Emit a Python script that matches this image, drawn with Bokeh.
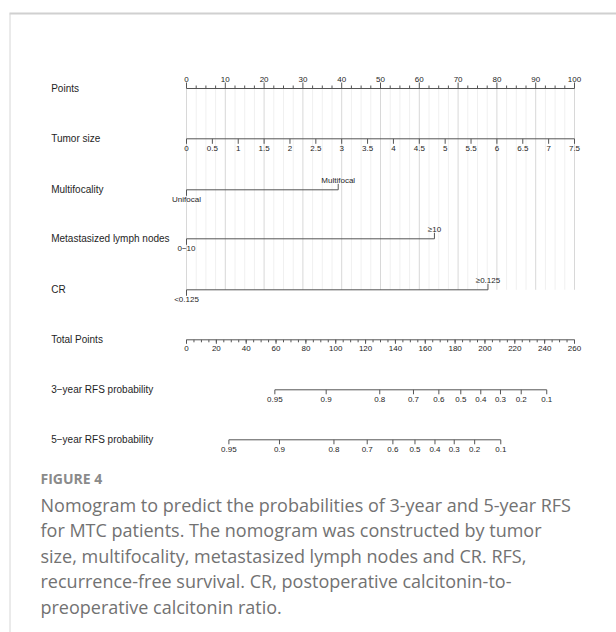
from bokeh.plotting import figure
from bokeh.models import Range1d
from bokeh.core.properties import value
from bokeh.embed import file_html
from bokeh.resources import INLINE

# ---------------- data ----------------
row_labels = ["Points", "Tumor size", "Multifocality", "Metastasized lymph nodes",
              "CR", "Total Points", "3\u2212year RFS probability", "5\u2212year RFS probability"]

points_ticks = [0, 10, 20, 30, 40, 50, 60, 70, 80, 90, 100]
points_minor_step = 2.5

tumor_size_ticks = [0, 0.5, 1, 1.5, 2, 2.5, 3, 3.5, 4, 4.5, 5, 5.5, 6, 6.5, 7, 7.5]
tumor_size_labels = ["0", "0.5", "1", "1.5", "2", "2.5", "3", "3.5", "4", "4.5",
                     "5", "5.5", "6", "6.5", "7", "7.5"]
tumor_size_max = 7.5          # 7.5 -> 100 points

multifocality_levels = ["Unifocal", "Multifocal"]
multifocality_points = [0, 39.1]

lymph_levels = ["0\u221210", "\u226510"]
lymph_points = [0, 63.9]

cr_levels = ["<0.125", "\u22650.125"]
cr_points = [0, 77.7]

total_points_ticks = [0, 20, 40, 60, 80, 100, 120, 140, 160, 180, 200, 220, 240, 260]
total_points_max = 260
total_minor_step = 5

rfs3_probs = ["0.95", "0.9", "0.8", "0.7", "0.6", "0.5", "0.4", "0.3", "0.2", "0.1"]
rfs3_total = [59.2, 93.6, 129.5, 152.1, 169.1, 183.8, 197.2, 210.4, 224.3, 241.4]

rfs5_probs = ["0.95", "0.9", "0.8", "0.7", "0.6", "0.5", "0.4", "0.3", "0.2", "0.1"]
rfs5_total = [28.4, 62.3, 98.8, 121.1, 138.3, 153.1, 166.5, 179.4, 193.1, 210.6]

caption_title = "FIGURE 4"
caption_lines = [
    "Nomogram to predict the probabilities of 3-year and 5-year RFS",
    "for MTC patients. The nomogram was constructed by tumor",
    "size, multifocality, metastasized lymph nodes and CR. RFS,",
    "recurrence-free survival. CR, postoperative calcitonin-to-",
    "preoperative calcitonin ratio.",
]

# ---------------- layout ----------------
W, H = 616, 632
PX_PER_PT = 3.88
X0 = 186            # screen x of 0 points
xs = -X0 / PX_PER_PT
xe = xs + W / PX_PER_PT

ROW_Y = [88, 138.3, 189.3, 238.3, 289.3, 339.3, 389.3, 439.3]
LABEL_X = 50.7

FONT = value("Liberation Sans")
AX_COL = "#555555"
TXT_COL = "#1e1e1e"

p = figure(width=W, height=H, output_backend="svg", toolbar_location=None,
           x_range=Range1d(xs, xe), y_range=Range1d(H, 0),
           min_border=0, min_border_left=0, min_border_right=0,
           min_border_top=0, min_border_bottom=0)
p.extra_x_ranges = {"px": Range1d(0, W)}
p.xaxis.visible = False
p.yaxis.visible = False
p.grid.visible = False
p.outline_line_color = None
p.background_fill_color = "white"
p.border_fill_color = "white"

# frame lines of the figure panel
p.segment(x0=[9], y0=[13], x1=[W], y1=[13], x_range_name="px",
          line_color="#d0d0d0", line_width=2)
p.segment(x0=[9.5], y0=[13], x1=[9.5], y1=[H], x_range_name="px",
          line_color="#d6d6d6", line_width=1)

# ---------------- grid ----------------
n_minor = int(100 / points_minor_step) + 1
minor_x = [i * points_minor_step for i in range(n_minor)]
minor_only = [v for v in minor_x if v not in points_ticks]
p.segment(x0=minor_only, y0=[ROW_Y[0]] * len(minor_only), x1=minor_only,
          y1=[ROW_Y[4]] * len(minor_only), line_color="#f0f0f0", line_width=1)
p.segment(x0=points_ticks, y0=[ROW_Y[0]] * len(points_ticks), x1=points_ticks,
          y1=[ROW_Y[4]] * len(points_ticks), line_color="#d8d8d8", line_width=1)

# ---------------- row labels ----------------
p.text(x=[LABEL_X] * len(row_labels), y=ROW_Y, text=row_labels, x_range_name="px",
       text_font=FONT, text_font_size="10px", text_color=TXT_COL,
       text_align="left", text_baseline="middle")


def axis_line(x0, x1, y):
    p.segment(x0=[x0], y0=[y], x1=[x1], y1=[y], line_color=AX_COL, line_width=1)


def ticks(xv, y, length):
    p.segment(x0=xv, y0=[y] * len(xv), x1=xv, y1=[y + length] * len(xv),
              line_color=AX_COL, line_width=1)


def labels(xv, y, txt):
    p.text(x=xv, y=[y] * len(xv), text=txt, text_font=FONT, text_font_size="8px",
           text_color=TXT_COL, text_align="center", text_baseline="middle")


# Points axis (ticks upwards, labels above)
y = ROW_Y[0]
axis_line(0, 100, y)
ticks(minor_only, y, -3)
ticks(points_ticks, y, -6)
labels(points_ticks, y - 9, [str(v) for v in points_ticks])

# Tumor size
y = ROW_Y[1]
ts_pts = [v / tumor_size_max * 100 for v in tumor_size_ticks]
axis_line(ts_pts[0], ts_pts[-1], y)
ticks(ts_pts, y, 5)
labels(ts_pts, y + 9.5, tumor_size_labels)


def categorical(pts, names, y):
    axis_line(min(pts), max(pts), y)
    for i, (pt, nm) in enumerate(zip(pts, names)):
        d = 1 if i % 2 == 0 else -1
        ticks([pt], y, 6 * d)
        labels([pt], y + 9.5 * d, [nm])


categorical(multifocality_points, multifocality_levels, ROW_Y[2])
categorical(lymph_points, lymph_levels, ROW_Y[3])
categorical(cr_points, cr_levels, ROW_Y[4])

# Total points
y = ROW_Y[5]
tp_to_pts = 100 / total_points_max
tp_minor = [i * total_minor_step * tp_to_pts for i in range(int(total_points_max / total_minor_step) + 1)]
tp_major = [v * tp_to_pts for v in total_points_ticks]
axis_line(0, 100, y)
ticks(tp_minor, y, 2.5)
ticks(tp_major, y, 4)
labels(tp_major, y + 9, [str(v) for v in total_points_ticks])

# 3-year & 5-year RFS
for row, tot, lab in [(ROW_Y[6], rfs3_total, rfs3_probs), (ROW_Y[7], rfs5_total, rfs5_probs)]:
    xv = [v * tp_to_pts for v in tot]
    axis_line(min(xv), max(xv), row)
    ticks(xv, row, 4.5)
    labels(xv, row + 9.5, lab)

# ---------------- caption ----------------
p.text(x=[40], y=[478], text=[caption_title], x_range_name="px",
       text_font=value("Open Sans"), text_font_size="14px", text_font_style="bold",
       text_color="#8a8a8a", text_align="left", text_baseline="middle")
cap_y = [504 + 25.5 * i for i in range(len(caption_lines))]
p.text(x=[40] * len(caption_lines), y=cap_y, text=caption_lines, x_range_name="px",
       text_font=value("Open Sans"), text_font_size="18px",
       text_color="#727272", text_align="left", text_baseline="middle")

open("out.html", "w").write(file_html(p, INLINE))
